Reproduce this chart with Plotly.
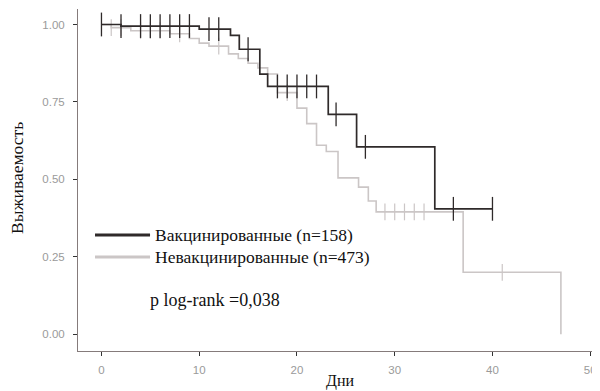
import plotly.graph_objects as go

# Vaccinated group (Kaplan–Meier step points)
vac_time = [0, 2, 10, 13.2, 14.1, 16.2, 17.0, 23.2, 26.1, 34.1, 40]
vac_surv = [1.0, 0.995, 0.985, 0.965, 0.92, 0.84, 0.80, 0.71, 0.605, 0.405, 0.405]
vac_cens = [0, 2, 4, 5, 6, 7, 8, 9, 11, 12, 15, 18, 19, 20, 21, 22, 24, 27, 36, 40]

# Unvaccinated group
unvac_time = [0, 1, 3, 7, 9, 10, 11, 13, 14, 15, 16, 17, 18, 20, 21, 22, 23, 24.2, 26.3, 27.3, 28.1, 37, 47]
unvac_surv = [1.0, 0.99, 0.98, 0.97, 0.955, 0.94, 0.93, 0.905, 0.89, 0.875, 0.86, 0.84, 0.78, 0.73, 0.68,
              0.61, 0.59, 0.505, 0.475, 0.43, 0.395, 0.20, 0.0]
unvac_cens = [1, 2, 4, 5, 6, 8, 12, 19, 29, 30, 31, 32, 33, 41]

x_ticks = [0, 10, 20, 30, 40, 50]
y_ticks = [0, 0.25, 0.5, 0.75, 1.0]
y_labels = ["0.00", "0.25", "0.50", "0.75", "1.00"]

label_vac = "Вакцинированные (n=158)"
label_unvac = "Невакцинированные (n=473)"
p_text = "p log-rank =0,038"
x_title = "Дни"
y_title = "Выживаемость"

BLACK = "#2f2a2a"
GREY = "#cbc6c6"


def serif(size):
    return dict(family="Liberation Serif", size=size, color="#111")


TICKFONT = dict(family="Liberation Sans", size=11.5, color="#9a9a9a")


def surv_at(times, survs, t):
    s = survs[0]
    for ti, si in zip(times, survs):
        if ti <= t:
            s = si
    return s


fig = go.Figure()

fig.add_trace(go.Scatter(x=unvac_time, y=unvac_surv, mode="lines", line_shape="hv",
                         line=dict(color=GREY, width=1.6), name=label_unvac, showlegend=False))
fig.add_trace(go.Scatter(x=unvac_cens, y=[surv_at(unvac_time, unvac_surv, t) for t in unvac_cens],
                         mode="markers", marker=dict(symbol="line-ns", size=12,
                                                     line=dict(color=GREY, width=1.2)),
                         showlegend=False, hoverinfo="skip"))

fig.add_trace(go.Scatter(x=vac_time, y=vac_surv, mode="lines", line_shape="hv",
                         line=dict(color=BLACK, width=1.7), name=label_vac, showlegend=False))
fig.add_trace(go.Scatter(x=vac_cens, y=[surv_at(vac_time, vac_surv, t) for t in vac_cens],
                         mode="markers", marker=dict(symbol="line-ns", size=17,
                                                     line=dict(color=BLACK, width=1.3)),
                         showlegend=False, hoverinfo="skip"))

# manual legend (inside the plot, bottom-left)
legend_items = [(label_vac, BLACK, 0.339), (label_unvac, GREY, 0.275)]
for lab, col, yy in legend_items:
    fig.add_shape(type="line", xref="paper", yref="paper", x0=0.0326, x1=0.138, y0=yy, y1=yy,
                  line=dict(color=col, width=3))
    fig.add_annotation(text=lab, xref="paper", yref="paper", x=0.1437, y=yy, xanchor="left",
                       yanchor="middle", showarrow=False, font=serif(17.5))

fig.add_annotation(text=p_text, xref="paper", yref="paper", x=0.134, y=0.149, xanchor="left",
                   yanchor="middle", showarrow=False, font=serif(18))

fig.add_annotation(text=x_title, xref="paper", yref="paper", x=0.502, y=-0.088, xanchor="center",
                   yanchor="middle", showarrow=False, font=serif(16))
fig.add_annotation(text=y_title, xref="paper", yref="paper", x=-0.1169, y=0.506, xanchor="center",
                   yanchor="middle", showarrow=False, textangle=-90, font=serif(17.5))

# the page body adds an 8px offset, so the figure is sized to fit the window
fig.update_layout(
    width=592, height=383,
    margin=dict(l=70, r=0, t=1, b=40),
    paper_bgcolor="white", plot_bgcolor="white",
    showlegend=False,
    xaxis=dict(range=[-2.4, 51.0], tickvals=x_ticks, showgrid=False, zeroline=False, automargin=False,
               showline=True, linecolor="#857b7b", linewidth=1, ticks="outside", ticklen=4,
               tickcolor="#333", tickfont=TICKFONT, ticklabelstandoff=4),
    yaxis=dict(range=[-0.054, 1.05], tickvals=y_ticks, ticktext=y_labels, showgrid=False,
               zeroline=False, showline=True, linecolor="#857b7b", linewidth=1, ticks="outside",
               ticklen=4, tickcolor="#333", automargin=False, tickfont=TICKFONT, ticklabelstandoff=6),
)

fig.write_html("out.html")
